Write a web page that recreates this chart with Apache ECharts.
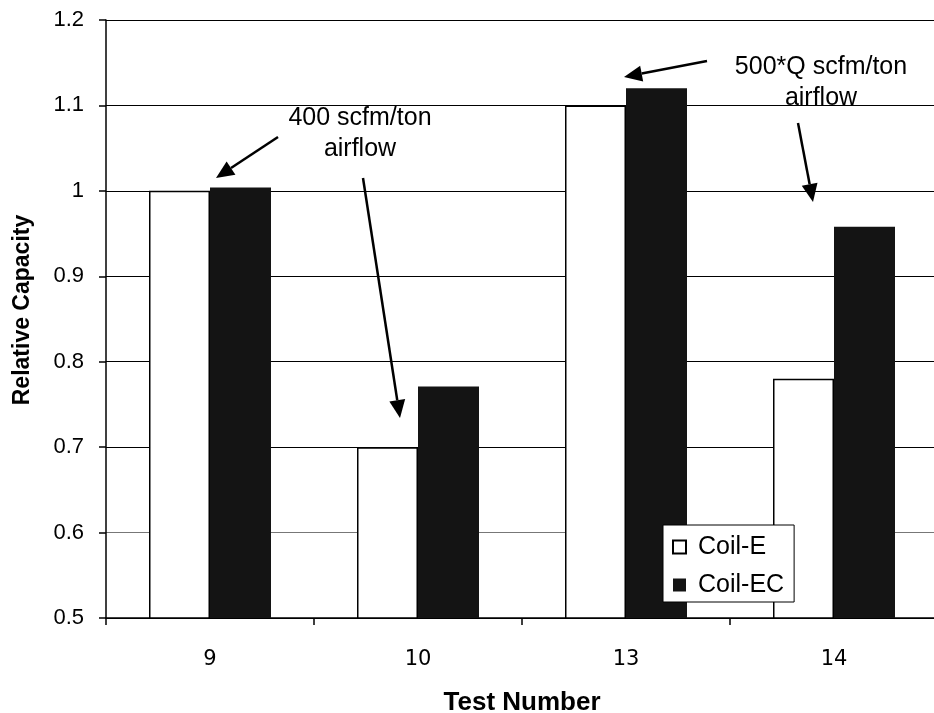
<!DOCTYPE html>
<html><head><meta charset="utf-8">
<script src="https://cdn.jsdelivr.net/npm/echarts@6/dist/echarts.min.js"></script>
<style>html,body{margin:0;padding:0;background:#fff}#c{width:934px;height:713px}</style>
</head><body><div id="c"></div>
<script>
const categories = ['9', '10', '13', '14'];
const coilE = [1.0, 0.70, 1.10, 0.78];
const coilEC = [1.004, 0.771, 1.12, 0.958];
const yMin = 0.5, yMax = 1.2, yStep = 0.1;
const seriesNames = ['Coil-E', 'Coil-EC'];
const noteA = ['400 scfm/ton', 'airflow'];
const noteB = ['500*Q scfm/ton', 'airflow'];

const chart = echarts.init(document.getElementById('c'), null, {renderer: 'canvas'});
const SANS = '"Liberation Sans", Arial, sans-serif';

function arrow(x1, y1, x2, y2) {
  const dx = x2 - x1, dy = y2 - y1, L = Math.hypot(dx, dy);
  const ux = dx / L, uy = dy / L, hl = 18, hw = 8;
  const bx = x2 - ux * hl, by = y2 - uy * hl;
  return [
    {type: 'line', shape: {x1: x1, y1: y1, x2: bx, y2: by}, style: {stroke: '#000', lineWidth: 2.5}, z: 100},
    {type: 'polygon', shape: {points: [[x2, y2], [bx - uy * hw, by + ux * hw], [bx + uy * hw, by - ux * hw]]}, style: {fill: '#000'}, z: 100}
  ];
}
function note(lines, cx, cy) {
  return {type: 'text', x: cx, y: cy, z: 100,
    style: {text: lines.join('\n'), font: '25px ' + SANS, fill: '#000', align: 'center', verticalAlign: 'middle', lineHeight: 31}};
}

chart.setOption({
  animation: false,
  backgroundColor: '#fff',
  grid: {left: 106, top: 20, width: 832, height: 598, containLabel: false, outerBoundsMode: 'none'},
  legend: {
    orient: 'vertical', left: 663, top: 525,
    data: seriesNames, icon: 'rect', itemWidth: 13, itemHeight: 13, itemGap: 12,
    padding: [9, 10, 4, 9], borderColor: '#000', borderWidth: 1, backgroundColor: '#fff',
    textStyle: {fontFamily: SANS, fontSize: 25, color: '#000', lineHeight: 26, padding: [0, 0, 0, 7]}
  },
  xAxis: {
    type: 'category', data: categories,
    name: 'Test Number', nameLocation: 'middle', nameGap: 72,
    nameTextStyle: {fontFamily: SANS, fontWeight: 'bold', fontSize: 26, color: '#000'},
    axisLine: {lineStyle: {color: '#000', width: 1.5}},
    axisTick: {show: true, length: 7, lineStyle: {color: '#000', width: 1.5}},
    axisLabel: {fontFamily: '"DejaVu Sans", sans-serif', fontSize: 21, color: '#000', margin: 31}
  },
  yAxis: {
    type: 'value', min: yMin, max: yMax, interval: yStep,
    name: 'Relative Capacity', nameLocation: 'middle', nameGap: 72, nameRotate: 90,
    nameTextStyle: {fontFamily: SANS, fontWeight: 'bold', fontSize: 23, color: '#000', padding: [0, 0, 0, 18]},
    axisLine: {show: true, lineStyle: {color: '#000', width: 1.5}},
    axisTick: {show: true, length: 7, lineStyle: {color: '#000', width: 1.5}},
    axisLabel: {fontFamily: SANS, fontSize: 22, color: '#000', margin: 22},
    splitLine: {show: true, lineStyle: {color: ['#000', '#777', '#000', '#000', '#000', '#000', '#000', '#000'], width: 1.2}}
  },
  series: [
    {name: seriesNames[0], type: 'bar', data: coilE, barWidth: 61, barGap: '0%',
      itemStyle: {color: '#fff', borderColor: '#000', borderWidth: 1.5}},
    {name: seriesNames[1], type: 'bar', data: coilEC, barWidth: 61, barGap: '0%',
      itemStyle: {color: '#141414', borderColor: '#141414', borderWidth: 0}}
  ],
  graphic: [].concat(
    arrow(278, 137, 216, 178),
    arrow(363, 178, 400, 418),
    arrow(707, 61, 624, 77),
    arrow(798, 123, 813, 202),
    [note(noteA, 360, 134), note(noteB, 821, 83)]
  )
});
</script></body></html>
